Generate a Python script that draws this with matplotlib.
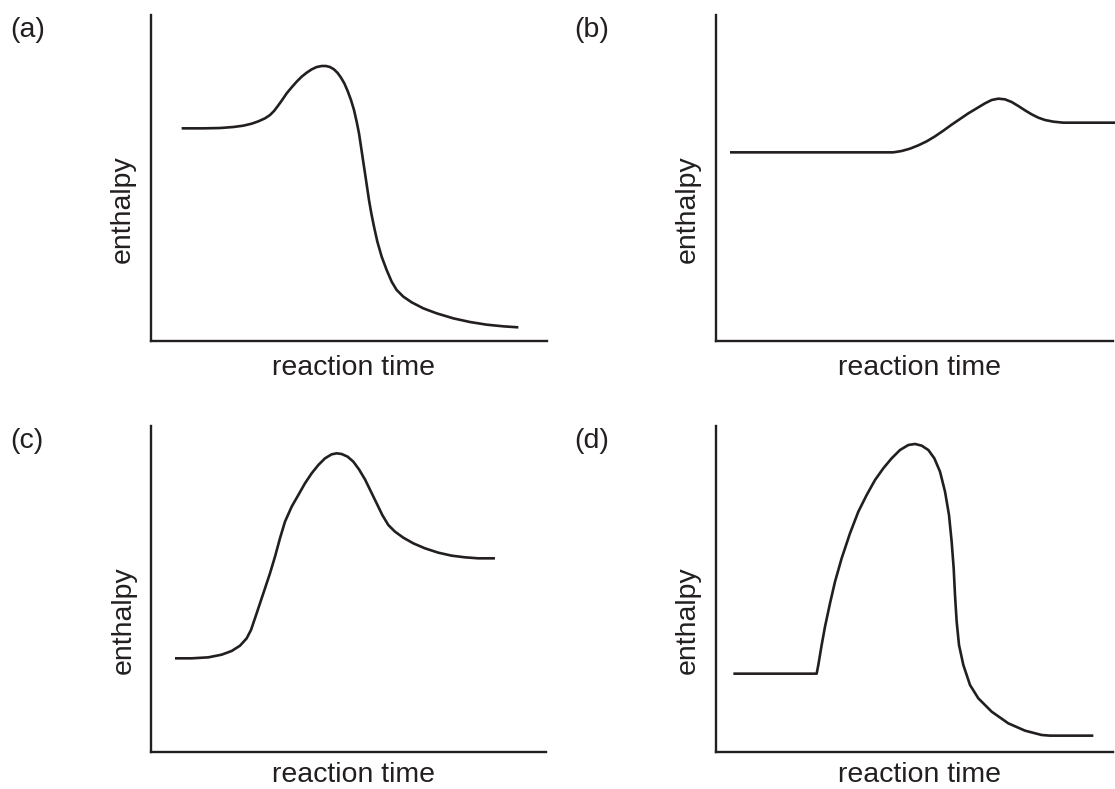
import matplotlib.pyplot as plt

plt.rcParams['font.family'] = ['Liberation Sans', 'DejaVu Sans']

INK = '#231f20'
W, H = 1115, 789

# curves, time and enthalpy both on a 0-100 scale
a_time = [7.81, 13.28, 17.49, 20.85, 23.37, 25.48, 27.16, 28.84, 30.10, 31.11, 31.95, 33.05,
          34.31, 35.57, 36.83, 38.09, 39.36, 40.62, 41.88, 43.14, 44.23, 45.24, 46.25, 47.18,
          48.02, 48.86, 49.70, 50.54, 51.30, 51.97, 52.56, 53.07, 53.57, 54.08, 54.58, 55.08,
          55.67, 56.35, 57.19, 58.28, 59.54, 60.80, 62.07, 63.75, 65.85, 68.80, 72.16, 76.37,
          80.57, 84.78, 88.98, 92.77]
a_enthalpy = [65.20, 65.20, 65.30, 65.61, 66.02, 66.63, 67.35, 68.27, 69.29, 70.52, 71.85, 73.69,
              75.95, 77.79, 79.53, 81.06, 82.29, 83.31, 84.03, 84.34, 84.34, 84.03, 83.31, 82.19,
              80.76, 79.02, 76.66, 73.90, 70.83, 67.25, 63.66, 59.57, 55.48, 51.38, 47.29, 43.19,
              39.10, 35.01, 30.40, 25.80, 21.70, 18.12, 15.56, 13.52, 11.78, 9.93, 8.40, 6.86,
              5.74, 4.92, 4.41, 4.10]

b_time = [3.60, 26.25, 44.71, 46.81, 48.90, 51.00, 53.10, 55.20, 57.29, 59.39, 61.49, 63.59,
          65.68, 67.78, 69.46, 71.14, 72.81, 74.49, 76.17, 77.85, 79.53, 81.20, 82.88, 84.98,
          87.50, 90.85, 95.05, 100.50]
b_enthalpy = [57.83, 57.83, 57.83, 58.24, 58.96, 59.98, 61.21, 62.74, 64.48, 66.33, 68.07, 69.81,
              71.34, 72.88, 73.90, 74.31, 74.10, 73.29, 72.06, 70.73, 69.50, 68.48, 67.76, 67.25,
              66.94, 66.94, 66.94, 66.94]

c_time = [6.07, 10.29, 14.51, 17.89, 20.42, 22.53, 24.22, 25.31, 26.32, 27.59, 28.86, 30.12,
          31.39, 32.65, 33.92, 35.61, 37.30, 38.98, 40.67, 42.36, 44.05, 45.73, 47.00, 48.27,
          49.78, 51.22, 52.65, 54.17, 55.69, 57.13, 58.56, 60.08, 61.77, 63.88, 66.41, 69.36,
          72.74, 76.11, 79.49, 82.86, 87.08]
c_enthalpy = [28.67, 28.67, 28.97, 29.79, 30.92, 32.55, 34.81, 37.36, 40.95, 45.55, 50.16, 54.76,
              59.88, 65.51, 70.63, 75.23, 78.81, 82.40, 85.47, 88.02, 90.07, 91.30, 91.61, 91.40,
              90.58, 89.05, 86.69, 83.62, 79.84, 76.25, 72.67, 69.60, 67.56, 65.71, 63.97, 62.44,
              61.11, 60.19, 59.68, 59.37, 59.37]

d_time = [4.44, 14.93, 25.41, 25.83, 26.67, 27.51, 28.77, 30.03, 31.70, 33.80, 35.90, 38.00,
          40.10, 42.19, 44.29, 46.39, 48.49, 50.16, 51.84, 53.52, 55.03, 56.46, 57.72, 58.72,
          59.39, 59.90, 60.23, 60.65, 61.24, 62.33, 64.01, 66.10, 69.46, 73.65, 77.85, 82.04,
          84.14, 89.60, 95.05]
d_enthalpy = [23.96, 23.96, 23.96, 26.62, 32.76, 38.39, 45.56, 52.21, 59.37, 67.05, 73.70, 78.82,
              83.42, 87.01, 90.08, 92.63, 94.17, 94.48, 93.97, 92.63, 90.08, 85.98, 79.84, 72.68,
              64.49, 56.30, 48.12, 39.93, 32.76, 26.62, 20.48, 16.39, 12.29, 8.71, 6.46, 5.13,
              4.93, 4.93, 4.93]

panel_tags = ['(a)', '(b)', '(c)', '(d)']
xlabel = 'reaction time'
ylabel = 'enthalpy'

# pixel boxes of each panel: left, top, right, bottom
boxes = [(150.7, 15, 547, 340.7), (715.7, 15, 1113, 340.7),
         (151, 426, 546, 751.7), (715.7, 426, 1113, 751.7)]
curves = [(a_time, a_enthalpy), (b_time, b_enthalpy), (c_time, c_enthalpy), (d_time, d_enthalpy)]

fig = plt.figure(figsize=(W / 100, H / 100), dpi=100)

for i, ((l, t, r, b), (x, y)) in enumerate(zip(boxes, curves)):
    ax = fig.add_axes([l / W, 1 - b / H, (r - l) / W, (b - t) / H])
    ax.plot(x, y, color=INK, lw=1.9, solid_capstyle='butt', solid_joinstyle='round',
            clip_on=False)
    ax.set_xlim(0, 100)
    ax.set_ylim(0, 100)
    for s in ['top', 'right']:
        ax.spines[s].set_visible(False)
    for s in ['left', 'bottom']:
        ax.spines[s].set_color(INK)
        ax.spines[s].set_linewidth(1.7)
    ax.set_xticks([])
    ax.set_yticks([])
    ax.patch.set_alpha(0)

    # tag, axis labels
    tag_x = 10.7 if l < 400 else 574.6
    fig.text(tag_x / W, 1 - (t + 22) / H, panel_tags[i], fontsize=20.5, color=INK,
             ha='left', va='baseline')
    fig.text((l - 14.7) / W, 1 - (t + 194) / H, ylabel, fontsize=20.5, color=INK,
             rotation=90, ha='right', va='center')
    # bottom row label sits a touch higher so it stays inside the canvas
    gap = 34 if b < 400 else 30.5
    fig.text(((l + r) / 2 + 5) / W, 1 - (b + gap) / H, xlabel, fontsize=20.5, color=INK,
             ha='center', va='baseline')

fig.savefig('out.png', dpi=100)
